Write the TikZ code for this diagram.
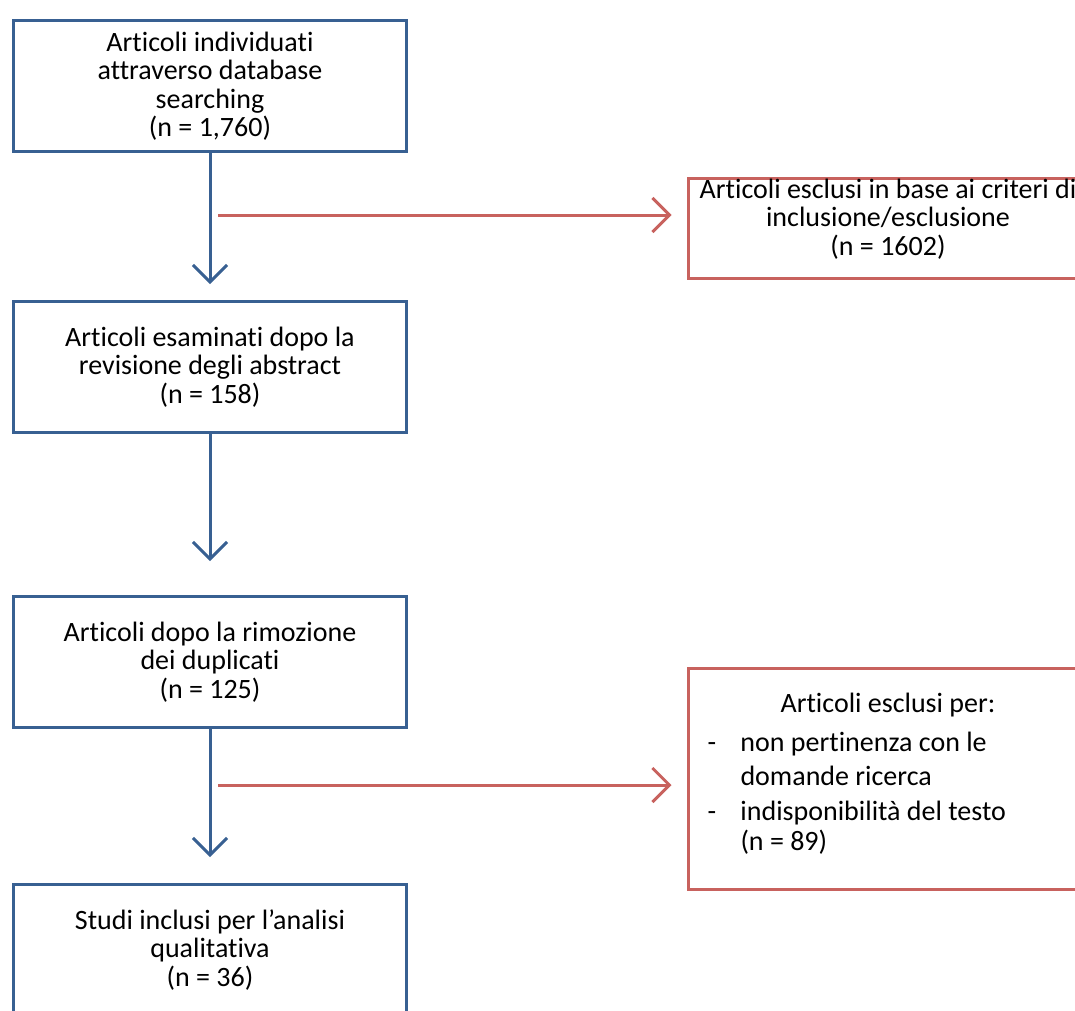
\documentclass[tikz,border=0pt]{standalone}
\usepackage{fontspec}
\setmainfont{Carlito}[Ligatures=NoCommon]
\usetikzlibrary{arrows.meta,positioning,calc}
\definecolor{flowblue}{RGB}{56,96,146}
\definecolor{flowred}{RGB}{200,98,94}

\begin{document}
\begin{tikzpicture}[x=1pt, y=1pt, line width=3pt,
  boxfont/.style={font=\fontsize{28}{28.5}\selectfont},
  mainbox/.style={boxfont, draw=flowblue, minimum width=393pt, minimum height=131pt, align=center, inner sep=0pt},
  exclbox/.style={draw=flowred, minimum width=400pt, inner sep=0pt},
  excltext/.style={boxfont, align=center, inner sep=0pt},
  downarrow/.style={draw=flowblue, -{Straight Barb[length=17pt, width=34pt]}},
  sidearrow/.style={draw=flowred, -{Straight Barb[length=17pt, width=34pt]}}]
  \useasboundingbox (0,0) rectangle (1075,-1010);
  % Main column of boxes.
  \node[mainbox] (found) at (210,-86) {Articoli individuati\\attraverso database\\searching\\(n = 1,760)};
  \node[mainbox] (screened) at (210,-367) {Articoli esaminati dopo la\\revisione degli abstract\\(n = 158)};
  \node[mainbox] (nodup) at (210,-662) {Articoli dopo la rimozione\\dei duplicati\\(n = 125)};
  \node[mainbox] (included) at (210,-950) {Studi inclusi per l’analisi\\qualitativa\\(n = 36)};
  % Boxes of the excluded articles.
  \node[exclbox, minimum height=100pt] (excla) at (888,-228.5) {};
  \node[excltext] (exclatext) at (888,-219) {Articoli esclusi in base ai criteri di\\inclusione/esclusione\\(n = 1602)};
  \node[exclbox, minimum height=221pt] (exclb) at (888,-779) {};
  \node[excltext] (exclbtitle) at (888,-705) {Articoli esclusi per:};
  \node[boxfont, anchor=north west, inner sep=0pt] (exclblist) at (706,-730)
    {\begin{tabular}{@{}p{33pt}@{}l@{}}
      - & non pertinenza con le\\[6pt]
        & domande ricerca\\[6pt]
      - & indisponibilit\`a del testo\\[1pt]
        & (n = 89)
    \end{tabular}};
  % Downward flow.
  \draw[downarrow] (found.south) -- ($(screened.north)+(0,16)$);
  \draw[downarrow] (screened.south) -- ($(nodup.north)+(0,34)$);
  \draw[downarrow] (nodup.south) -- ($(included.north)+(0,26)$);
  % Side branches.
  \coordinate (forka) at (218,-215);
  \coordinate (forkb) at (218,-785);
  \draw[sidearrow] (forka) -- ($(forka -| excla.west)+(-15,0)$);
  \draw[sidearrow] (forkb) -- ($(forkb -| exclb.west)+(-15,0)$);
\end{tikzpicture}
\end{document}
